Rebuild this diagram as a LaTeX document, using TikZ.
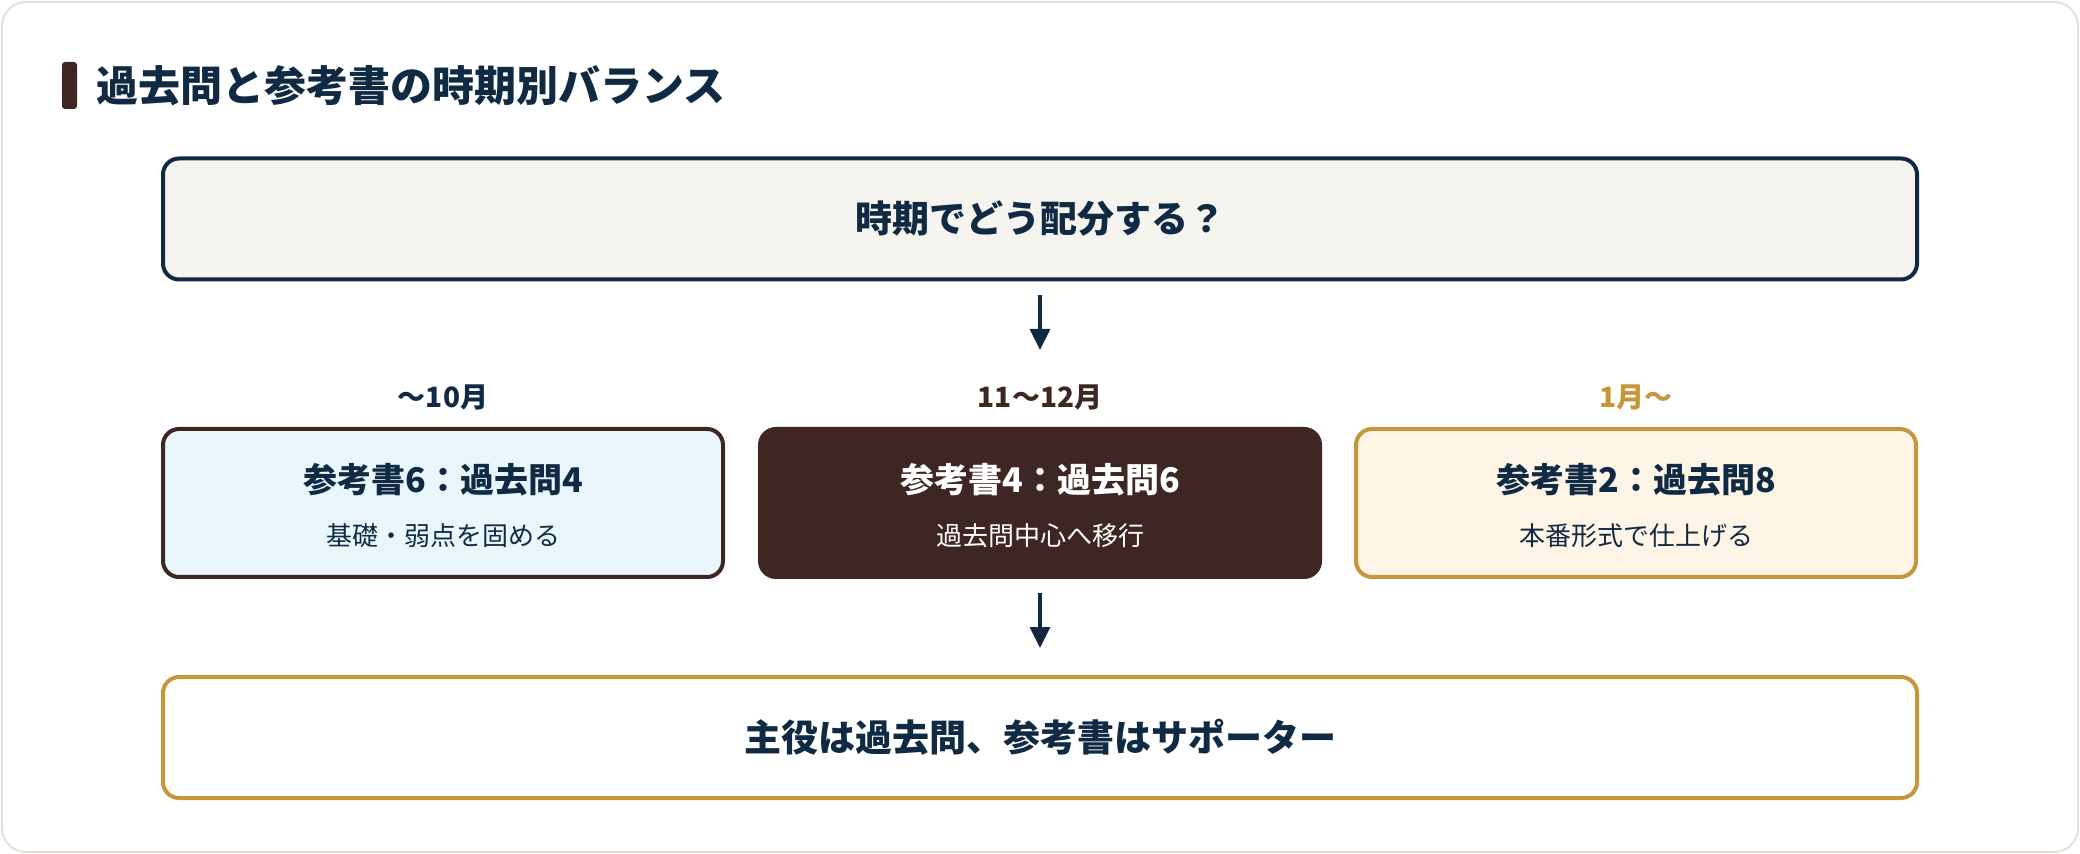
\documentclass[tikz,border=0pt]{standalone}
\usepackage{fontspec}
\setmainfont{Noto Sans CJK JP}
\usetikzlibrary{arrows.meta}
\definecolor{navy}{HTML}{102A43}
\definecolor{cocoa}{HTML}{3E2723}
\definecolor{gold}{HTML}{C8963A}
\definecolor{skyfill}{HTML}{E9F7FD}
\definecolor{creamfill}{HTML}{FEF5E6}
\definecolor{paperfill}{HTML}{F5F4EF}
\definecolor{cardline}{HTML}{E4E1D4}
\tikzset{
  phasebox/.style={draw, rounded corners=8pt, line width=2pt,%
    minimum width=280pt, minimum height=74pt, inner sep=0pt},
  widebox/.style={phasebox, minimum width=877pt, minimum height=60.5pt},
  phaselabel/.style={font=\bfseries\fontsize{14}{17}\selectfont, inner sep=0pt},
  phasetitle/.style={font=\bfseries\fontsize{17}{20}\selectfont, inner sep=0pt},
  phasenote/.style={font=\fontsize{13}{16}\selectfont, inner sep=0pt},
  bigtext/.style={font=\bfseries\fontsize{18.5}{22}\selectfont, inner sep=0pt, text=navy},
  flowarrow/.style={draw=navy, line width=1.7pt,%
    -{Triangle[length=10.5pt, width=10pt]}}
}
\begin{document}
\begin{tikzpicture}[x=0.5pt, y=-0.5pt]
    \pgfmathsetmacro{\xl}{443}
    \pgfmathsetmacro{\xm}{1040}
    \pgfmathsetmacro{\xr}{1636}
    \pgfmathsetmacro{\ylab}{397}
    \pgfmathsetmacro{\ybox}{503}
    \useasboundingbox (0, 0) rectangle (2080, 854);
    \draw[draw=cardline, fill=white, line width=1pt, rounded corners=12pt]%
    (2, 2) rectangle (2078, 852);
    \fill[cocoa, rounded corners=1.5pt] (62, 62) rectangle (77, 109);
    \node[anchor=west, inner sep=0pt, text=navy,%
          font=\bfseries\fontsize{21}{25}\selectfont] (title) at (96, 86)%
         {過去問と参考書の時期別バランス};

    \node[widebox, draw=navy, fill=paperfill] (question) at (\xm, 219) {};
    \node[bigtext] at (question.center) {時期でどう配分する？};
    \coordinate (qtip) at (\xm, 350);
    \draw[flowarrow, shorten <=7pt] (question) -- (qtip);

    \node[phaselabel, text=navy] (lab1) at (\xl, \ylab) {〜10月};
    \node[phaselabel, text=cocoa] (lab2) at (\xm, \ylab) {11〜12月};
    \node[phaselabel, text=gold] (lab3) at (\xr, \ylab) {1月〜};

    \node[phasebox, draw=cocoa, fill=skyfill] (early) at (\xl, \ybox) {};
    \node[phasebox, draw=cocoa, fill=cocoa] (middle) at (\xm, \ybox) {};
    \node[phasebox, draw=gold, fill=creamfill] (late) at (\xr, \ybox) {};
    \node[phasetitle, text=navy] at (\xl, 480) {参考書6：過去問4};
    \node[phasenote, text=navy] at (\xl, 536) {基礎・弱点を固める};
    \node[phasetitle, text=white] at (\xm, 480) {参考書4：過去問6};
    \node[phasenote, text=white] at (\xm, 536) {過去問中心へ移行};
    \node[phasetitle, text=navy] at (\xr, 480) {参考書2：過去問8};
    \node[phasenote, text=navy] at (\xr, 536) {本番形式で仕上げる};

    \node[widebox, draw=gold, fill=white] (answer) at (\xm, 737.5) {};
    \node[bigtext] at (answer.center) {主役は過去問、参考書はサポーター};
    \draw[flowarrow, shorten <=7pt, shorten >=13.5pt] (middle) -- (answer);
  \end{tikzpicture}
\end{document}
